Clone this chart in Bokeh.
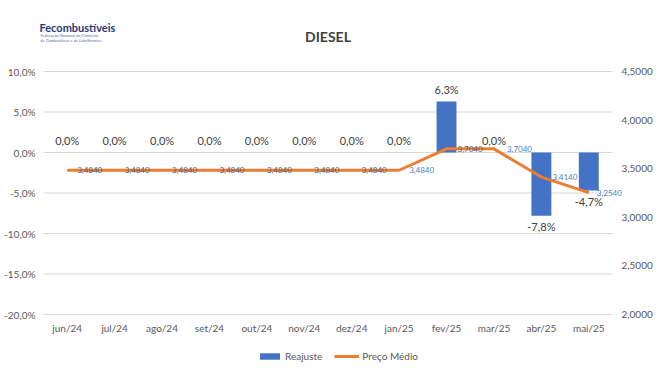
from bokeh.plotting import figure
from bokeh.models import (Range1d, ColumnDataSource, LabelSet, Label, Legend, LegendItem)
from bokeh.core.properties import value
from bokeh.embed import file_html
from bokeh.resources import INLINE

categories = ["jun/24", "jul/24", "ago/24", "set/24", "out/24", "nov/24",
              "dez/24", "jan/25", "fev/25", "mar/25", "abr/25", "mai/25"]
reajuste = [0.0, 0.0, 0.0, 0.0, 0.0, 0.0, 0.0, 0.0, 6.3, 0.0, -7.8, -4.7]
preco_medio = [3.4840, 3.4840, 3.4840, 3.4840, 3.4840, 3.4840, 3.4840, 3.4840,
               3.7040, 3.7040, 3.4140, 3.2540]
left_ticks = [-20, -15, -10, -5, 0, 5, 10]
left_tick_labels = ["-20,0%", "-15,0%", "-10,0%", "-5,0%", "0,0%", "5,0%", "10,0%"]
right_ticks = [2.0, 2.5, 3.0, 3.5, 4.0, 4.5]
right_tick_labels = ["2,0000", "2,5000", "3,0000", "3,5000", "4,0000", "4,5000"]

FONT = "Lato"
GRAY = "#595959"
BLUE = "#4472C4"
ORANGE = "#ED7D31"
LBLUE = "#4F81BD"

OX, OY = 1, 1               # observed offset of the canvas in the picture
TOP_IMG, BOT_IMG = 72, 315  # picture rows of the 10% and -20% gridlines
LEFT_IMG, RIGHT_IMG = 44, 613  # picture columns of the plot area
PX = (BOT_IMG - TOP_IMG) / 30.0
PAD = LEFT_IMG - OX                       # pixels left of the plot area
W = (RIGHT_IMG - LEFT_IMG) + 2 * PAD
H = 368
UNIT = (RIGHT_IMG - LEFT_IMG) / len(categories)

def ly(img_y):
    return 10 - (img_y - TOP_IMG) / PX

def py(img_y):
    return 4.5 - (img_y - TOP_IMG) / (BOT_IMG - TOP_IMG) * 2.5

p = figure(width=W, height=H, x_range=categories,
           y_range=Range1d(ly(H + OY), ly(OY)),
           x_axis_location=None, y_axis_location=None,
           output_backend="svg", toolbar_location=None,
           min_border_left=0, min_border_right=0, min_border_top=0, min_border_bottom=0)
p.x_range.range_padding = PAD / UNIT
p.x_range.range_padding_units = "absolute"
p.extra_y_ranges = {"price": Range1d(py(H + OY), py(OY))}
p.outline_line_color = None
p.xgrid.grid_line_color = None
p.ygrid.grid_line_color = None

n = len(categories)
# horizontal gridlines across the category span
p.segment(x0=[0] * len(left_ticks), x1=[n] * len(left_ticks), y0=left_ticks, y1=left_ticks,
          line_color="#D9D9D9", line_width=1)

# axis tick labels
p.add_layout(LabelSet(source=ColumnDataSource(dict(x=[0] * len(left_ticks), y=left_ticks,
                                                   t=left_tick_labels)),
                      x="x", y="y", text="t", x_offset=-8, text_align="right",
                      text_baseline="middle", text_font=value(FONT),
                      text_font_size="10px", text_color=GRAY))
p.add_layout(LabelSet(source=ColumnDataSource(dict(x=[n] * len(right_ticks), y=right_ticks,
                                                   t=right_tick_labels)),
                      x="x", y="y", text="t", x_offset=9, text_align="left",
                      y_range_name="price",
                      text_baseline="middle", text_font=value(FONT),
                      text_font_size="10px", text_color=GRAY))

bar_src = ColumnDataSource(dict(
    x=categories, top=reajuste,
    label=[f"{v:.1f}".replace(".", ",") + "%" for v in reajuste],
    off=[12 if v >= 0 else -11 for v in reajuste]))
bars = p.vbar(x="x", top="top", width=0.42, source=bar_src, fill_color=BLUE, line_color=None)
line = p.line(x=categories, y=preco_medio, y_range_name="price", line_color=ORANGE, line_width=3)

p.add_layout(LabelSet(x="x", y="top", text="label", y_offset="off", source=bar_src,
                      text_align="center", text_baseline="middle", text_font=value(FONT),
                      text_font_size="11px", text_color="#404040"))

# category labels (x axis)
cat_src = ColumnDataSource(dict(x=categories, y=[-20] * n))
p.add_layout(LabelSet(x="x", y="y", text="x", source=cat_src, y_offset=-13,
                      text_align="center", text_baseline="middle", text_font=value(FONT),
                      text_font_size="10px", text_color=GRAY))

price_lbl = [f"{v:.4f}".replace(".", ",") for v in preco_medio]
lbl_colors = ["#52627A"] * 7 + [LBLUE, "#52627A", LBLUE, LBLUE, LBLUE]
lbl_dx = [10, 10, 10, 10, 10, 10, 10, 10, 11, 13, 11, 8]
price_src = ColumnDataSource(dict(x=categories, y=preco_medio, t=price_lbl,
                                  c=lbl_colors, dx=lbl_dx))
p.add_layout(LabelSet(x="x", y="y", text="t", source=price_src, y_range_name="price",
                      x_offset="dx", text_color="c",
                      text_align="left", text_baseline="middle", text_font=value(FONT),
                      text_font_size="8px"))

# title and logo text
p.add_layout(Label(x=n / 2, y=ly(37), text="DIESEL", text_align="center",
                   text_baseline="middle", text_font=FONT, text_font_size="14px",
                   text_font_style="bold", text_color="#404040"))
p.add_layout(Label(x=0.0, x_offset=-4, y=ly(28), text="Fecombustíveis",
                   text_align="left", text_baseline="middle", text_font=FONT,
                   text_font_size="11px", text_font_style="bold", text_color="#1F3A7A"))
p.add_layout(Label(x=0.0, x_offset=-3, y=ly(36), text="Federação Nacional do Comércio",
                   text_align="left", text_baseline="middle", text_font=FONT,
                   text_font_size="4px", text_color="#5A6E9A"))
p.add_layout(Label(x=0.0, x_offset=-3, y=ly(40.5), text="de Combustíveis e de Lubrificantes",
                   text_align="left", text_baseline="middle", text_font=FONT,
                   text_font_size="4px", text_color="#5A6E9A"))

legend = Legend(items=[LegendItem(label="Reajuste", renderers=[bars]),
                       LegendItem(label="Preço Médio", renderers=[line])],
                location=(258 - OX, H + OY - 363), orientation="horizontal", padding=0, margin=0,
                spacing=12, label_standoff=3, glyph_width=25, glyph_height=8,
                label_height=12, label_text_font=FONT, label_text_font_size="10px",
                label_text_color=GRAY, border_line_color=None, background_fill_alpha=0)
p.add_layout(legend)

open("out.html", "w").write(file_html(p, INLINE))
